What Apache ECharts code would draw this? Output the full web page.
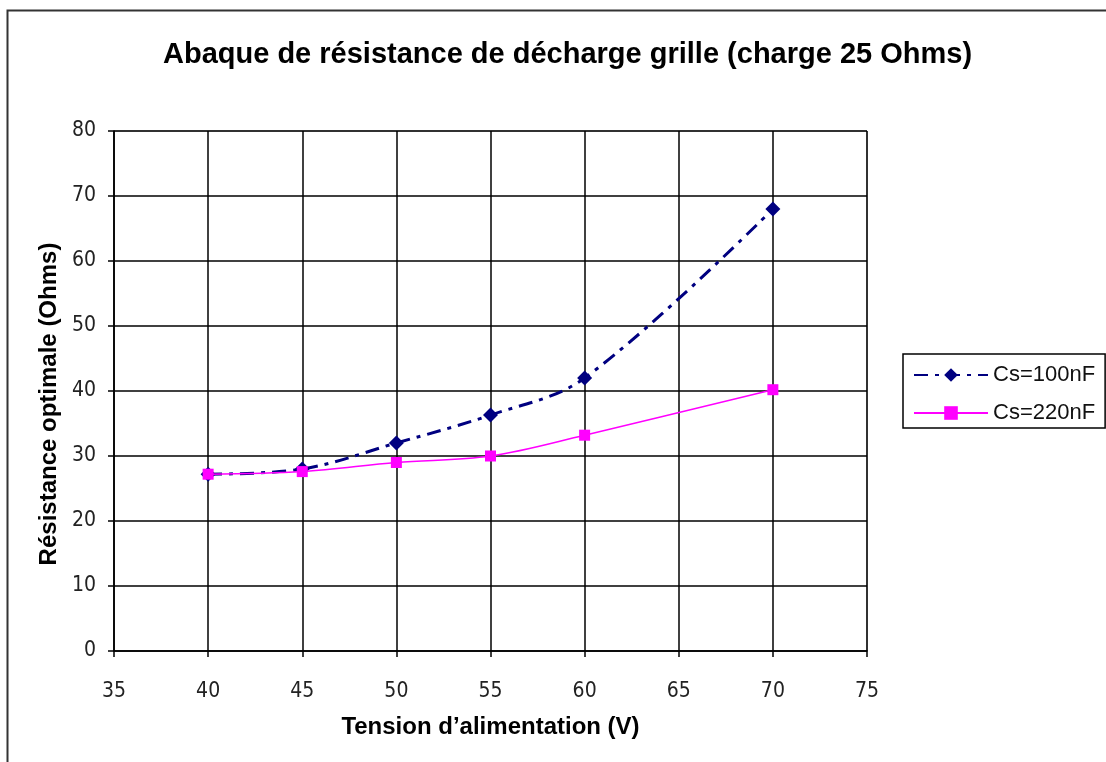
<!DOCTYPE html>
<html><head><meta charset="utf-8">
<script src="https://cdn.jsdelivr.net/npm/echarts@6/dist/echarts.min.js"></script>
<style>html,body{margin:0;padding:0;background:#fff}#c{width:1106px;height:762px}</style>
</head><body><div id="c"></div>
<script>
const xValues = [40, 45, 50, 55, 60, 70];
const cs100 = [27.2, 28, 32, 36.3, 42, 68];
const cs220 = [27.2, 27.6, 29, 30, 33.2, 40.2];
const seriesNames = ['Cs=100nF', 'Cs=220nF'];
const titleText = 'Abaque de résistance de décharge grille (charge 25 Ohms)';
const xName = 'Tension d\u2019alimentation (V)';
const yName = 'Résistance optimale (Ohms)';

const chart = echarts.init(document.getElementById('c'), null, {renderer: 'canvas'});
const font = '"Liberation Sans", Arial, sans-serif';
const narrow = '"DejaVu Sans Condensed", "Liberation Sans", sans-serif';
chart.setOption({
  animation: false,
  backgroundColor: '#fff',
  graphic: [{
    type: 'rect', shape: {x: 7.5, y: 10.5, width: 1110, height: 770},
    style: {fill: 'none', stroke: '#333', lineWidth: 2}, z: -1, silent: true
  }],
  title: {
    text: titleText, left: 158, top: 35,
    textStyle: {fontFamily: font, fontSize: 29, fontWeight: 'bold', color: '#000'}
  },
  legend: {
    orient: 'vertical', left: 903, top: 354,
    padding: [10, 10, 4, 10], itemGap: 16, itemWidth: 74, itemHeight: 17,
    borderColor: '#000', borderWidth: 1.5,
    textStyle: {fontFamily: font, fontSize: 22, color: '#111', lineHeight: 22},
    data: seriesNames
  },
  grid: {left: 114, right: 239, top: 131, bottom: 111, show: true, borderColor: '#888', borderWidth: 1},
  xAxis: {
    type: 'value', min: 35, max: 75, interval: 5,
    name: xName, nameLocation: 'middle', nameGap: 64,
    nameTextStyle: {fontFamily: font, fontSize: 24, fontWeight: 'bold', color: '#000'},
    axisLine: {lineStyle: {color: '#000', width: 1.5}},
    axisTick: {show: true, inside: false, length: 6, lineStyle: {color: '#000', width: 1.5}},
    axisLabel: {fontFamily: narrow, fontSize: 21, color: '#222', margin: 30},
    splitLine: {show: true, lineStyle: {color: '#000', width: 1.5}}
  },
  yAxis: {
    type: 'value', min: 0, max: 80, interval: 10,
    name: yName, nameLocation: 'middle', nameGap: 53,
    nameTextStyle: {fontFamily: font, fontSize: 24, fontWeight: 'bold', color: '#000', padding: [0, 26, 0, 0]},
    axisLine: {show: true, lineStyle: {color: '#000', width: 1.5}},
    axisTick: {show: true, inside: false, length: 6, lineStyle: {color: '#000', width: 1.5}},
    axisLabel: {fontFamily: narrow, fontSize: 21, color: '#222', margin: 18},
    splitLine: {show: true, lineStyle: {color: '#000', width: 1.5}}
  },
  series: [{
    name: seriesNames[0], type: 'line', smooth: 0.35,
    data: xValues.map((x, i) => [x, cs100[i]]),
    symbol: 'diamond', symbolSize: 15,
    itemStyle: {color: '#000080'},
    lineStyle: {color: '#000080', width: 3, type: [14, 7, 4, 7]},
    z: 3
  }, {
    name: seriesNames[1], type: 'line', smooth: 0.35,
    data: xValues.map((x, i) => [x, cs220[i]]),
    symbol: 'rect', symbolSize: 11,
    itemStyle: {color: '#ff00ff'},
    lineStyle: {color: '#ff00ff', width: 1.5},
    z: 4
  }]
});
</script></body></html>
